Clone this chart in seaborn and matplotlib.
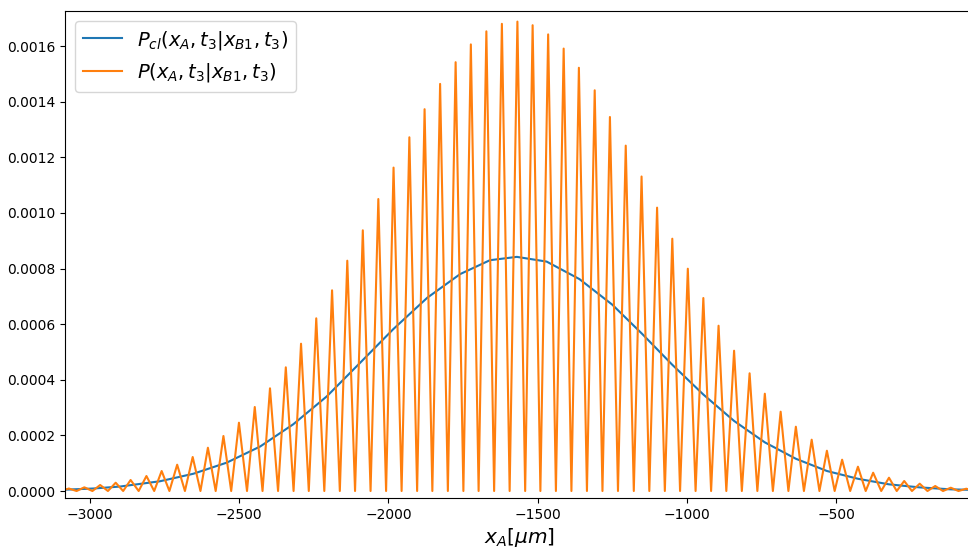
import matplotlib
matplotlib.use("Agg")
import matplotlib.pyplot as plt
import numpy as np
import pandas as pd
import seaborn as sns

# classical probability (y in units of 1e-4)
cl_x = [-3078, -2989, -2900, -2766, -2654, -2542, -2430, -2319, -2207, -2096,
        -1984, -1870, -1760, -1660, -1570, -1470, -1360, -1250, -1150, -1050,
        -945, -842, -739, -635, -531, -427, -323, -220, -116, -42]
cl_y = [0.05, 0.09, 0.16, 0.35, 0.62, 1.02, 1.60, 2.40, 3.40, 4.60,
        5.82, 6.95, 7.80, 8.30, 8.42, 8.25, 7.62, 6.70, 5.65, 4.55,
        3.47, 2.52, 1.75, 1.16, 0.72, 0.44, 0.24, 0.13, 0.06, 0.04]

# quantum probability: fringe maxima and the minima between them
peak_x = [-3071, -3019, -2966, -2914, -2864, -2811, -2760, -2708, -2656, -2605,
          -2553, -2501, -2448, -2397, -2344, -2293, -2242, -2189, -2138, -2086,
          -2034, -1983, -1930, -1879, -1827, -1775, -1724, -1672, -1620, -1568,
          -1517, -1465, -1413, -1362, -1309, -1258, -1205, -1152, -1100, -1049,
          -997, -945, -894, -842, -790, -739, -686, -635, -582, -531,
          -480, -427, -376, -323, -272, -220, -168, -116, -64]
peak_y = [0.09, 0.133, 0.216, 0.298, 0.396, 0.539, 0.719, 0.946, 1.223, 1.557,
          1.978, 2.456, 3.021, 3.693, 4.448, 5.297, 6.210, 7.217, 8.282, 9.375,
          10.50, 11.63, 12.72, 13.73, 14.64, 15.42, 16.06, 16.53, 16.80, 16.88,
          16.75, 16.42, 15.91, 15.22, 14.41, 13.45, 12.42, 11.31, 10.19, 9.073,
          7.994, 6.940, 5.944, 5.045, 4.233, 3.499, 2.852, 2.312, 1.845, 1.449,
          1.126, 0.874, 0.658, 0.478, 0.360, 0.263, 0.180, 0.119, 0.083]
trough_x = [-3097, -3045, -2992, -2940, -2889, -2837, -2785, -2734, -2682, -2630,
            -2579, -2527, -2474, -2422, -2370, -2318, -2267, -2215, -2163, -2112,
            -2060, -2008, -1956, -1904, -1853, -1801, -1749, -1698, -1646, -1594,
            -1542, -1491, -1439, -1387, -1335, -1283, -1231, -1178, -1126, -1074,
            -1023, -971, -919, -868, -816, -764, -712, -660, -608, -556,
            -505, -453, -401, -349, -297, -246, -194, -142, -90, -38]
trough_y = [0.0] * len(trough_x)

df_cl = pd.DataFrame({"x": cl_x, "p": np.array(cl_y) * 1e-4})
df_q = pd.DataFrame({"x": peak_x + trough_x,
                     "p": np.array(peak_y + trough_y) * 1e-4})

fig = plt.figure(figsize=(9.68, 5.49), dpi=100)
ax = fig.add_axes([0.0675, 0.0923, 0.9375, 0.8876])

sns.lineplot(data=df_cl, x="x", y="p", ax=ax, color="tab:blue",
             label=r"$P_{cl}(x_A,t_3|x_{B1},t_3)$", estimator=None)
sns.lineplot(data=df_q, x="x", y="p", ax=ax, color="tab:orange",
             label=r"$P(x_A,t_3|x_{B1},t_3)$", estimator=None)

ax.set_xlim(-3082.7, -42)
ax.set_ylim(-0.0000263, 0.001726)
ax.set_xlabel(r"$x_A[\mu m]$", fontsize=14.5, labelpad=3)
ax.set_ylabel("")
ax.legend(loc="upper left", fontsize=14)

fig.savefig("out.png", dpi=100)
